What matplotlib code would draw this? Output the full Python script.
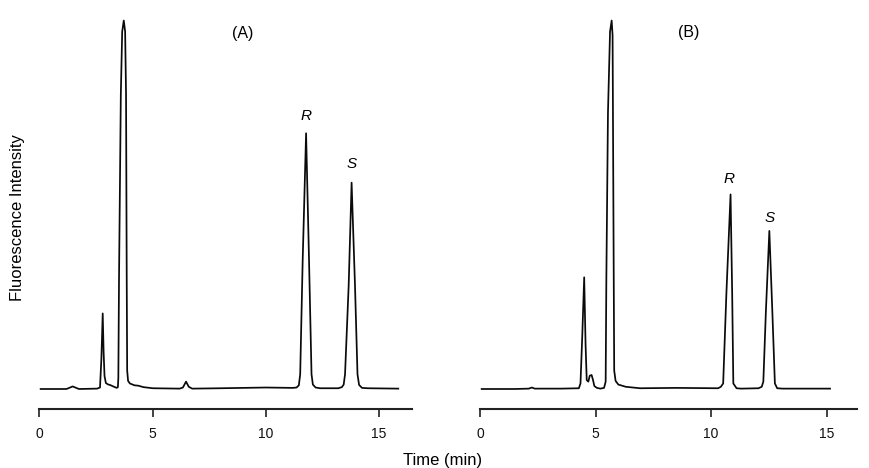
import matplotlib
matplotlib.use("Agg")
import matplotlib.pyplot as plt

plt.rcParams['font.family'] = ['Liberation Sans', 'DejaVu Sans']

# ---------------- data ----------------
# Panel A chromatogram: time (min) and fluorescence intensity (arbitrary, 100 = main peak)
a_time = [0.06, 1.20, 1.40, 1.47, 1.55, 1.75, 2.55, 2.68, 2.74, 2.80, 2.84, 2.88,
          2.94, 3.05, 3.12, 3.30, 3.42, 3.47, 3.49, 3.52, 3.60, 3.66, 3.73, 3.79,
          3.83, 3.86, 3.88, 3.92, 4.00, 4.20, 4.37, 4.60, 5.02, 6.20, 6.34, 6.48,
          6.60, 6.75, 8.00, 10.00, 11.20, 11.36, 11.46, 11.52, 11.63, 11.78, 11.91,
          12.02, 12.08, 12.20, 12.40, 13.20, 13.36, 13.44, 13.50, 13.66, 13.79,
          13.94, 14.05, 14.12, 14.25, 14.50, 15.85]
a_signal = [0.0, 0.0, 0.5, 0.7, 0.5, 0.0, 0.1, 0.4, 8.0, 20.5, 10.0, 3.5,
            1.6, 1.2, 1.1, 0.6, 0.3, 0.5, 3.0, 30.0, 80.0, 97.0, 100.0, 97.0,
            80.0, 30.0, 5.0, 2.2, 1.5, 1.0, 0.9, 0.5, 0.2, 0.1, 0.4, 2.0,
            0.6, 0.1, 0.2, 0.4, 0.3, 0.4, 1.0, 4.0, 35.0, 69.4, 35.0,
            4.0, 1.2, 0.4, 0.2, 0.2, 0.5, 1.2, 4.0, 28.0, 56.0,
            28.0, 4.0, 1.1, 0.3, 0.2, 0.1]

# Panel B chromatogram
b_time = [0.06, 1.50, 2.10, 2.23, 2.36, 3.50, 4.27, 4.34, 4.42, 4.50, 4.56, 4.61,
          4.68, 4.74, 4.82, 4.88, 4.94, 5.05, 5.20, 5.36, 5.43, 5.46, 5.53, 5.62,
          5.69, 5.73, 5.78, 5.80, 5.86, 5.98, 6.30, 6.92, 8.50, 10.30, 10.42,
          10.52, 10.66, 10.84, 10.91, 10.96, 11.10, 11.30, 12.05, 12.19, 12.26,
          12.37, 12.52, 12.65, 12.76, 12.86, 13.10, 15.15]
b_signal = [0.0, 0.0, 0.1, 0.4, 0.1, 0.1, 0.2, 1.5, 15.0, 30.3, 12.0, 2.4,
            2.0, 3.6, 3.8, 2.5, 0.8, 0.3, 0.1, 0.3, 2.0, 30.0, 75.0, 97.0,
            100.0, 96.0, 30.0, 5.0, 2.2, 1.2, 0.6, 0.2, 0.3, 0.2, 0.6,
            1.5, 26.0, 52.8, 26.0, 1.5, 0.2, 0.1, 0.2, 0.6, 2.0,
            21.0, 42.9, 21.0, 1.5, 0.2, 0.1, 0.1]

x_ticks = [0, 5, 10, 15]
x_tick_labels = ["0", "5", "10", "15"]
panel_titles = ["(A)", "(B)"]
peak_labels = ["R", "S"]
a_peak_label_pos = [(11.78, 74.0), (13.77, 61.0)]
b_peak_label_pos = [(10.77, 57.0), (12.52, 46.5)]
title_pos = [(8.98, 96.5), (9.01, 96.7)]
x_label = "Time (min)"
y_label = "Fluorescence Intensity"

# ---------------- figure ----------------
W, H = 870, 468
fig = plt.figure(figsize=(W / 100, H / 100), dpi=100)

def px_axes(left_px, right_px, top_px, bottom_px):
    return fig.add_axes([left_px / W, 1 - bottom_px / H,
                         (right_px - left_px) / W, (bottom_px - top_px) / H])

ylim = (-5.43, 101.5)
axA = px_axes(39.3, 412.3, 15, 409)
axB = px_axes(480.3, 857.3, 15, 409)

panels = [
    (axA, a_time, a_signal, 16.47, a_peak_label_pos),
    (axB, b_time, b_signal, 16.33, b_peak_label_pos),
]

for i, (ax, t, s, xmax, lab_pos) in enumerate(panels):
    ax.plot(t, s, color="#0a0a0a", lw=1.25, solid_joinstyle="round", clip_on=False)
    ax.set_xlim(0, xmax)
    ax.set_ylim(*ylim)
    for side in ["top", "right", "left"]:
        ax.spines[side].set_visible(False)
    ax.spines["bottom"].set_color("#222222")
    ax.spines["bottom"].set_linewidth(1.5)
    ax.set_yticks([])
    ax.set_xticks(x_ticks)
    ax.set_xticklabels(x_tick_labels)
    ax.tick_params(axis="x", direction="out", length=5.5, width=1.2,
                   color="#222222", labelsize=10, pad=7.5, labelcolor="#111111")
    tx, ty = title_pos[i]
    ax.text(tx, ty, panel_titles[i], ha="center", va="center", fontsize=11.5)
    for lbl, (lx, ly) in zip(peak_labels, lab_pos):
        ax.text(lx, ly, lbl, ha="center", va="center", fontsize=11,
                style="italic")
    ax.patch.set_alpha(0)

fig.text(443 / W, 1 - 460 / H, x_label, ha="center", va="center", fontsize=12)
fig.text(18 / W, 1 - 218 / H, y_label, ha="center", va="center",
         rotation=90, fontsize=12)

fig.savefig("out.png", dpi=100)
